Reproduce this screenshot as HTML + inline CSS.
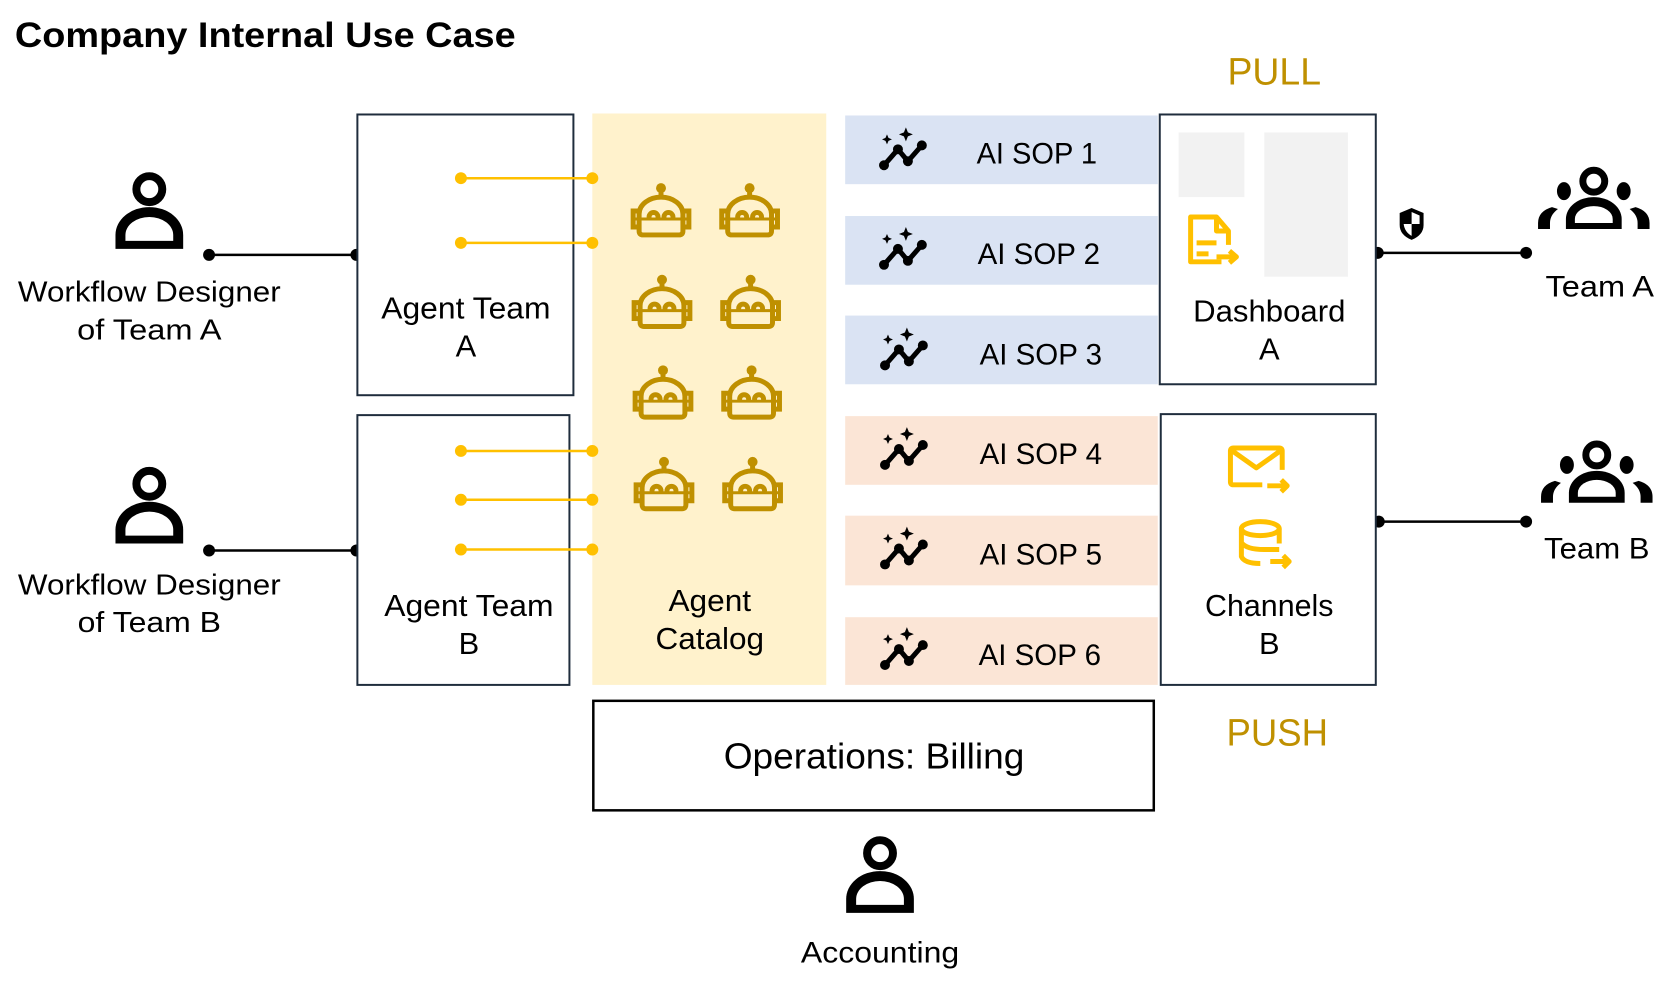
<!DOCTYPE html>
<html><head><meta charset="utf-8"><style>
html,body{margin:0;padding:0;background:#fff;}
svg{display:block;}
text{font-family:"Liberation Sans",sans-serif;}
</style></head><body>
<svg width="1678" height="986" viewBox="0 0 1678 986" xmlns="http://www.w3.org/2000/svg">
<defs>
<g id="person">
<circle cx="0" cy="-24" r="13" fill="none" stroke="#000" stroke-width="8"/>
<path d="M-34 36 V22 A34 28 0 0 1 34 22 V36 Z" fill="#000"/>
<path d="M-24 28 V22 A24 18 0 0 1 24 22 V28 Z" fill="#fff"/>
</g>
<g id="team">
<circle cx="0" cy="-18" r="11" fill="none" stroke="#000" stroke-width="7"/>
<ellipse cx="-30" cy="-8" rx="7" ry="9" fill="#000"/>
<ellipse cx="30" cy="-8" rx="7" ry="9" fill="#000"/>
<path d="M-28 30 V20 A28 22 0 0 1 28 20 V30 Z" fill="#000"/>
<path d="M-19 24 V20 A19 13 0 0 1 19 20 V24 Z" fill="#fff"/>
<path d="M-56 30 V24 Q-56 12 -42 8 L-36 10 Q-44 16 -44 24 V30 Z" fill="#000"/>
<path d="M56 30 V24 Q56 12 42 8 L36 10 Q44 16 44 24 V30 Z" fill="#000"/>
</g>
<g id="robot" stroke="#bf9000" fill="none" stroke-width="5">
<circle cx="0" cy="-26" r="5" fill="#bf9000" stroke="none"/>
<line x1="0" y1="-26" x2="0" y2="-16"/>
<path d="M-22 6 V0 A22 17 0 0 1 22 0 V17 Q22 21 18 21 H-18 Q-22 21 -22 17 Z"/>
<path d="M-22 -3 H-28 V13 H-22 M22 -3 H28 V13 H22"/>
<line x1="-28" y1="5" x2="28" y2="5" stroke-width="3"/>
<path d="M-12 3 A4.5 4.5 0 0 1 -3 3 M3 3 A4.5 4.5 0 0 1 12 3" stroke-linecap="round"/>
</g>
<g id="sop">
<polyline points="-20,14 -6,-2 4,10 18,-6" fill="none" stroke="#000" stroke-width="5" stroke-linejoin="round"/>
<circle cx="-20" cy="14" r="5"/><circle cx="-6" cy="-2" r="5"/><circle cx="4" cy="10" r="5"/><circle cx="18" cy="-6" r="5"/>
<path d="M-17 -17 L-15.5 -13.5 L-12 -12 L-15.5 -10.5 L-17 -7 L-18.5 -10.5 L-22 -12 L-18.5 -13.5 Z"/>
<path d="M2 -24 L4 -19 L9 -17 L4 -15 L2 -10 L0 -15 L-5 -17 L0 -19 Z"/>
</g>
</defs>
<g transform="scale(0.9955)">
<text x="15" y="47" font-size="35" font-weight="bold" fill="#000" textLength="503" lengthAdjust="spacingAndGlyphs">Company Internal Use Case</text>

<use href="#person" x="150" y="214"/>
<use href="#person" x="150" y="510"/>
<g font-size="29" text-anchor="middle" fill="#000" lengthAdjust="spacingAndGlyphs">
<text x="150" y="303" textLength="264" lengthAdjust="spacingAndGlyphs">Workflow Designer</text>
<text x="150" y="341" textLength="145" lengthAdjust="spacingAndGlyphs">of Team A</text>
<text x="150" y="597" textLength="264" lengthAdjust="spacingAndGlyphs">Workflow Designer</text>
<text x="150" y="635" textLength="144" lengthAdjust="spacingAndGlyphs">of Team B</text>
</g>
<g stroke="#000" stroke-width="2.5">
<line x1="210" y1="256" x2="358" y2="256"/>
<line x1="210" y1="553" x2="358" y2="553"/>
<line x1="1384" y1="254" x2="1533" y2="254"/>
<line x1="1385" y1="524" x2="1533" y2="524"/>
</g>
<g fill="#000">
<circle cx="210" cy="256" r="6"/><circle cx="358" cy="256" r="6"/>
<circle cx="210" cy="553" r="6"/><circle cx="358" cy="553" r="6"/>
<circle cx="1384" cy="254" r="6"/><circle cx="1533" cy="254" r="6"/>
<circle cx="1385" cy="524" r="6"/><circle cx="1533" cy="524" r="6"/>
</g>

<rect x="359" y="115" width="217" height="282" fill="#fff" stroke="#1f2d3d" stroke-width="2"/>
<rect x="359" y="417" width="213" height="271" fill="#fff" stroke="#1f2d3d" stroke-width="2"/>
<g font-size="31" text-anchor="middle" fill="#000">
<text x="468" y="320" textLength="170" lengthAdjust="spacingAndGlyphs">Agent Team</text>
<text x="468" y="358">A</text>
<text x="471" y="619" textLength="170" lengthAdjust="spacingAndGlyphs">Agent Team</text>
<text x="471" y="657">B</text>
</g>

<rect x="595" y="114" width="235" height="574" fill="#fff2cc"/>
<g stroke="#ffc000" stroke-width="2.5">
<line x1="463" y1="179" x2="595" y2="179"/>
<line x1="463" y1="244" x2="595" y2="244"/>
<line x1="463" y1="453" x2="595" y2="453"/>
<line x1="463" y1="502" x2="595" y2="502"/>
<line x1="463" y1="552" x2="595" y2="552"/>
</g>
<g fill="#ffc000">
<circle cx="463" cy="179" r="6"/><circle cx="595" cy="179" r="6"/>
<circle cx="463" cy="244" r="6"/><circle cx="595" cy="244" r="6"/>
<circle cx="463" cy="453" r="6"/><circle cx="595" cy="453" r="6"/>
<circle cx="463" cy="502" r="6"/><circle cx="595" cy="502" r="6"/>
<circle cx="463" cy="552" r="6"/><circle cx="595" cy="552" r="6"/>
</g>
<use href="#robot" x="664" y="215"/><use href="#robot" x="753" y="215"/>
<use href="#robot" x="665" y="307"/><use href="#robot" x="754" y="307"/>
<use href="#robot" x="666" y="398"/><use href="#robot" x="755" y="398"/>
<use href="#robot" x="667" y="490"/><use href="#robot" x="756" y="490"/>
<g font-size="31" text-anchor="middle" fill="#000">
<text x="713" y="614" textLength="83" lengthAdjust="spacingAndGlyphs">Agent</text>
<text x="713" y="652" textLength="109" lengthAdjust="spacingAndGlyphs">Catalog</text>
</g>

<rect x="849" y="116" width="314" height="69" fill="#dae3f3"/>
<rect x="849" y="217" width="314" height="69" fill="#dae3f3"/>
<rect x="849" y="317" width="314" height="69" fill="#dae3f3"/>
<rect x="849" y="418" width="314" height="69" fill="#fbe5d6"/>
<rect x="849" y="518" width="314" height="70" fill="#fbe5d6"/>
<rect x="849" y="620" width="314" height="68" fill="#fbe5d6"/>
<use href="#sop" x="908" y="152"/>
<use href="#sop" x="908" y="252"/>
<use href="#sop" x="909" y="353"/>
<use href="#sop" x="909" y="453"/>
<use href="#sop" x="909" y="553"/>
<use href="#sop" x="909" y="654"/>
<g font-size="30" fill="#000">
<text x="981" y="164" textLength="121" lengthAdjust="spacingAndGlyphs">AI SOP 1</text>
<text x="982" y="265" textLength="123" lengthAdjust="spacingAndGlyphs">AI SOP 2</text>
<text x="984" y="366" textLength="123" lengthAdjust="spacingAndGlyphs">AI SOP 3</text>
<text x="984" y="466" textLength="123" lengthAdjust="spacingAndGlyphs">AI SOP 4</text>
<text x="984" y="567" textLength="123" lengthAdjust="spacingAndGlyphs">AI SOP 5</text>
<text x="983" y="668" textLength="123" lengthAdjust="spacingAndGlyphs">AI SOP 6</text>
</g>

<text x="1280" y="85" font-size="38" text-anchor="middle" fill="#bf9000" textLength="94" lengthAdjust="spacingAndGlyphs">PULL</text>
<rect x="1165" y="115" width="217" height="271" fill="#fff" stroke="#1f2d3d" stroke-width="2"/>
<rect x="1184" y="133" width="66" height="65" fill="#f2f2f2"/>
<rect x="1270" y="133" width="84" height="145" fill="#f2f2f2"/>
<g fill="none" stroke="#ffc000" stroke-width="5" stroke-linejoin="round">
<path d="M1227 263 H1196 V218 H1222 L1234 232 V246"/>
<path d="M1222 218 V232 H1234"/>
<line x1="1202" y1="244" x2="1222" y2="244"/>
<line x1="1202" y1="255" x2="1214" y2="255"/>
<line x1="1222" y1="258" x2="1240" y2="258"/>
<path d="M1235 252 L1242 258 L1235 264"/>
</g>
<g font-size="31" text-anchor="middle" fill="#000">
<text x="1275" y="323" textLength="153" lengthAdjust="spacingAndGlyphs">Dashboard</text>
<text x="1275" y="361">A</text>
</g>
<path d="M1418 209 L1430 214 V226 Q1430 236 1418 241 Q1406 236 1406 226 V214 Z" fill="#000"/>
<path d="M1418 213 L1426 216.5 V225 H1418 Z M1418 225 H1410 Q1411 233 1418 237 Z" fill="#fff"/>

<rect x="1166" y="416" width="216" height="272" fill="#fff" stroke="#1f2d3d" stroke-width="2"/>
<g fill="none" stroke="#ffc000" stroke-width="5" stroke-linejoin="round">
<path d="M1268 487 H1239 Q1236 487 1236 484 V453 Q1236 450 1239 450 H1285 Q1288 450 1288 453 V472"/>
<path d="M1238 453 L1262 470 L1286 453"/>
<line x1="1273" y1="488" x2="1292" y2="488"/>
<path d="M1287 482 L1293 488 L1287 494"/>
<ellipse cx="1266" cy="531" rx="19" ry="7"/>
<path d="M1247 531 V559 Q1250 566 1266 566 M1247 545 Q1252 552 1270 552 H1285 M1285 531 V546"/>
<line x1="1276" y1="564" x2="1294" y2="564"/>
<path d="M1289 558 L1295 564 L1289 570"/>
</g>
<g font-size="31" text-anchor="middle" fill="#000">
<text x="1275" y="619" textLength="129" lengthAdjust="spacingAndGlyphs">Channels</text>
<text x="1275" y="657">B</text>
</g>
<text x="1283" y="749" font-size="38" text-anchor="middle" fill="#bf9000" textLength="102" lengthAdjust="spacingAndGlyphs">PUSH</text>

<use href="#team" x="1601" y="200"/>
<use href="#team" x="1604" y="475"/>
<g font-size="30" text-anchor="middle" fill="#000">
<text x="1607" y="298" textLength="109" lengthAdjust="spacingAndGlyphs">Team A</text>
<text x="1604" y="561" textLength="106" lengthAdjust="spacingAndGlyphs">Team B</text>
</g>

<rect x="596" y="704" width="563" height="110" fill="#fff" stroke="#000" stroke-width="2.5"/>
<text x="878" y="772" font-size="36" text-anchor="middle" fill="#000" textLength="302" lengthAdjust="spacingAndGlyphs">Operations: Billing</text>

<use href="#person" x="884" y="881"/>
<text x="884" y="967" font-size="30" text-anchor="middle" fill="#000" textLength="159" lengthAdjust="spacingAndGlyphs">Accounting</text>
</g>
</svg>
</body></html>
